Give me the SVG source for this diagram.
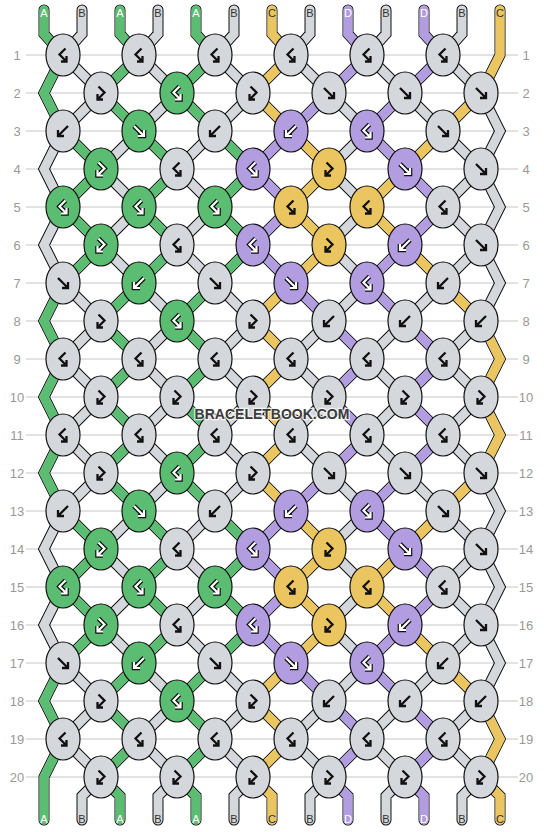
<svg xmlns="http://www.w3.org/2000/svg" width="544" height="832" viewBox="0 0 544 832">
<style>
.grid line{stroke:#c6c6c6;stroke-width:1}
.rl{font-family:"Liberation Sans",Arial,sans-serif;font-size:13px;fill:#999;text-anchor:middle}
.sl{font-family:"Liberation Sans",Arial,sans-serif;font-size:11px;text-anchor:middle}
.lw{fill:#fff}.ld{fill:#333}
.ol{fill:none;stroke:#111;stroke-width:11;stroke-linejoin:miter;stroke-linecap:round}
.st{fill:none;stroke-width:9;stroke-linejoin:miter;stroke-linecap:round}
.sB{stroke:#d4d8dc}.sA{stroke:#5bbd72}.sC{stroke:#ebc660}.sD{stroke:#b19de0}
.kB{fill:#d4d8dc}.kA{fill:#5bbd72}.kC{fill:#ebc660}.kD{fill:#b19de0}
.kn{stroke:#111;stroke-width:1.2}
.gk{fill:none;stroke:#111;stroke-width:2.3;stroke-linejoin:miter}
.go{fill:none;stroke:#111;stroke-width:4.6;stroke-linejoin:miter}
.gw{fill:none;stroke:#fff;stroke-width:2.2;stroke-linejoin:miter}
.wm{font-family:"Liberation Sans",Arial,sans-serif;font-weight:bold;font-size:14px;fill:#3c3c3c;stroke:rgba(255,255,255,0.75);stroke-width:2.5;paint-order:stroke;text-anchor:middle}
</style>
<defs>
<ellipse id="kn" rx="17" ry="21"/>
<path id="gf" d="M-5 -5L5 5M5 -1V5H-1"/>
<path id="gb" d="M5 -5L-5 5M-5 -1V5H1"/>
<path id="gbf" d="M2.5 -6.5L-3.5 -0.5L3.5 6.5M3.5 1V6.5H-2"/>
<path id="gfb" d="M-2.5 -6.5L3.5 -0.5L-3.5 6.5M-3.5 1V6.5H2"/>
<path id="net" d="M63 55l38 38 38-38 38 38 38-38 38 38 38-38 38 38 38-38 38 38 38-38 38 38
M63 131l38-38 38 38 38-38 38 38 38-38 38 38 38-38 38 38 38-38 38 38 38-38
M63 131l38 38 38-38 38 38 38-38 38 38 38-38 38 38 38-38 38 38 38-38 38 38
M63 207l38-38 38 38 38-38 38 38 38-38 38 38 38-38 38 38 38-38 38 38 38-38
M63 207l38 38 38-38 38 38 38-38 38 38 38-38 38 38 38-38 38 38 38-38 38 38
M63 283l38-38 38 38 38-38 38 38 38-38 38 38 38-38 38 38 38-38 38 38 38-38
M63 283l38 38 38-38 38 38 38-38 38 38 38-38 38 38 38-38 38 38 38-38 38 38
M63 359l38-38 38 38 38-38 38 38 38-38 38 38 38-38 38 38 38-38 38 38 38-38
M63 359l38 38 38-38 38 38 38-38 38 38 38-38 38 38 38-38 38 38 38-38 38 38
M63 435l38-38 38 38 38-38 38 38 38-38 38 38 38-38 38 38 38-38 38 38 38-38
M63 435l38 38 38-38 38 38 38-38 38 38 38-38 38 38 38-38 38 38 38-38 38 38
M63 511l38-38 38 38 38-38 38 38 38-38 38 38 38-38 38 38 38-38 38 38 38-38
M63 511l38 38 38-38 38 38 38-38 38 38 38-38 38 38 38-38 38 38 38-38 38 38
M63 587l38-38 38 38 38-38 38 38 38-38 38 38 38-38 38 38 38-38 38 38 38-38
M63 587l38 38 38-38 38 38 38-38 38 38 38-38 38 38 38-38 38 38 38-38 38 38
M63 663l38-38 38 38 38-38 38 38 38-38 38 38 38-38 38 38 38-38 38 38 38-38
M63 663l38 38 38-38 38 38 38-38 38 38 38-38 38 38 38-38 38 38 38-38 38 38
M63 739l38-38 38 38 38-38 38 38 38-38 38 38 38-38 38 38 38-38 38 38 38-38
M63 739l38 38 38-38 38 38 38-38 38 38 38-38 38 38 38-38 38 38 38-38 38 38
M63 55L44 93L63 131L44 169L63 207L44 245L63 283L44 321L63 359L44 397L63 435L44 473L63 511L44 549L63 587L44 625L63 663L44 701L63 739L44 777L44 820
M500 10L500 55L481 93L500 131L481 169L500 207L481 245L500 283L481 321L500 359L481 397L500 435L481 473L500 511L481 549L500 587L481 625L500 663L481 701L500 739L481 777L500 796L500 820
M44 10V34L63 55M82 10V34L63 55M120 10V34L139 55M158 10V34L139 55M196 10V34L215 55M234 10V34L215 55M272 10V34L291 55M310 10V34L291 55M348 10V34L367 55M386 10V34L367 55M424 10V34L443 55M462 10V34L443 55
M101 777L82 796V820M101 777L120 796V820M177 777L158 796V820M177 777L196 796V820M253 777L234 796V820M253 777L272 796V820M329 777L310 796V820M329 777L348 796V820M405 777L386 796V820M405 777L424 796V820M481 777L462 796V820"/>
</defs>
<rect width="544" height="832" fill="#fff"/>
<g class="grid">
<line x1="26" y1="55" x2="518" y2="55"/><line x1="26" y1="93" x2="518" y2="93"/><line x1="26" y1="131" x2="518" y2="131"/><line x1="26" y1="169" x2="518" y2="169"/><line x1="26" y1="207" x2="518" y2="207"/><line x1="26" y1="245" x2="518" y2="245"/><line x1="26" y1="283" x2="518" y2="283"/><line x1="26" y1="321" x2="518" y2="321"/><line x1="26" y1="359" x2="518" y2="359"/><line x1="26" y1="397" x2="518" y2="397"/><line x1="26" y1="435" x2="518" y2="435"/><line x1="26" y1="473" x2="518" y2="473"/><line x1="26" y1="511" x2="518" y2="511"/><line x1="26" y1="549" x2="518" y2="549"/><line x1="26" y1="587" x2="518" y2="587"/><line x1="26" y1="625" x2="518" y2="625"/><line x1="26" y1="663" x2="518" y2="663"/><line x1="26" y1="701" x2="518" y2="701"/><line x1="26" y1="739" x2="518" y2="739"/><line x1="26" y1="777" x2="518" y2="777"/>
</g>
<g class="rl">
<text x="17" y="60">1</text><text x="17" y="98">2</text><text x="17" y="136">3</text><text x="17" y="174">4</text><text x="17" y="212">5</text><text x="17" y="250">6</text><text x="17" y="288">7</text><text x="17" y="326">8</text><text x="17" y="364">9</text><text x="17" y="402">10</text><text x="17" y="440">11</text><text x="17" y="478">12</text><text x="17" y="516">13</text><text x="17" y="554">14</text><text x="17" y="592">15</text><text x="17" y="630">16</text><text x="17" y="668">17</text><text x="17" y="706">18</text><text x="17" y="744">19</text><text x="17" y="782">20</text>
<text x="526" y="60">1</text><text x="526" y="98">2</text><text x="526" y="136">3</text><text x="526" y="174">4</text><text x="526" y="212">5</text><text x="526" y="250">6</text><text x="526" y="288">7</text><text x="526" y="326">8</text><text x="526" y="364">9</text><text x="526" y="402">10</text><text x="526" y="440">11</text><text x="526" y="478">12</text><text x="526" y="516">13</text><text x="526" y="554">14</text><text x="526" y="592">15</text><text x="526" y="630">16</text><text x="526" y="668">17</text><text x="526" y="706">18</text><text x="526" y="744">19</text><text x="526" y="782">20</text>
</g>
<g id="connectors">
<use href="#net" class="ol"/>
<use href="#net" class="st sB"/>
<path class="st sA" d="M44 10V34L63 55M120 10V34L139 55M196 10V34L215 55
M63 55L44 93L63 131M63 283L44 321L63 359L44 397L63 435L44 473L63 511M63 663L44 701L63 739L44 777L44 820
M101 777L120 796V820M177 777L196 796V820
M139 55L101 93M215 55L177 93
M101 93L139 131M177 93L215 131
M63 131L101 169M139 131L177 169M215 131L253 169
M101 169L63 207M177 169L139 207M253 169L215 207
M63 207L101 245M139 207L177 245M215 207L253 245
M101 245L63 283M177 245L139 283M253 245L215 283
M139 283L101 321M215 283L177 321
M101 321L139 359M177 321L215 359
M139 359L101 397M215 359L177 397
M101 397L139 435M177 397L215 435
M139 435L101 473M215 435L177 473
M101 473L139 511M177 473L215 511
M63 511L101 549M139 511L177 549M215 511L253 549
M101 549L63 587M177 549L139 587M253 549L215 587
M63 587L101 625M139 587L177 625M215 587L253 625
M101 625L63 663M177 625L139 663M253 625L215 663
M139 663L101 701M215 663L177 701
M101 701L139 739M177 701L215 739
M139 739L101 777M215 739L177 777"/>
<path class="st sC" d="M272 10V34L291 55
M500 10L500 55L481 93M481 321L500 359L481 397L500 435L481 473M481 701L500 739L481 777L500 796L500 820
M253 777L272 796V820
M291 55L253 93
M253 93L291 131M481 93L443 131
M291 131L329 169M443 131L405 169
M329 169L291 207M405 169L367 207
M291 207L329 245M367 207L405 245
M329 245L291 283M405 245L443 283
M291 283L253 321M443 283L481 321
M253 321L291 359
M291 359L253 397
M253 397L291 435
M291 435L253 473
M253 473L291 511M481 473L443 511
M291 511L329 549M443 511L405 549
M329 549L291 587M405 549L367 587
M291 587L329 625M367 587L405 625
M329 625L291 663M405 625L443 663
M291 663L253 701M443 663L481 701
M253 701L291 739
M291 739L253 777"/>
<path class="st sD" d="M348 10V34L367 55M424 10V34L443 55
M329 777L348 796V820M405 777L424 796V820
M367 55L329 93M443 55L405 93
M329 93L291 131M405 93L367 131
M291 131L253 169M367 131L405 169
M253 169L291 207M405 169L443 207
M291 207L253 245M443 207L405 245
M253 245L291 283M405 245L367 283
M291 283L329 321M367 283L405 321
M329 321L367 359M405 321L443 359
M367 359L329 397M443 359L405 397
M329 397L367 435M405 397L443 435
M367 435L329 473M443 435L405 473
M329 473L291 511M405 473L367 511
M291 511L253 549M367 511L405 549
M253 549L291 587M405 549L443 587
M291 587L253 625M443 587L405 625
M253 625L291 663M405 625L367 663
M291 663L329 701M367 663L405 701
M329 701L367 739M405 701L443 739
M367 739L329 777M443 739L405 777"/>
</g>
<g id="strand-labels" class="sl">
<text class="lw" x="44" y="17">A</text><text class="ld" x="82" y="17">B</text><text class="lw" x="120" y="17">A</text><text class="ld" x="158" y="17">B</text><text class="lw" x="196" y="17">A</text><text class="ld" x="234" y="17">B</text><text class="ld" x="272" y="17">C</text><text class="ld" x="310" y="17">B</text><text class="lw" x="348" y="17">D</text><text class="ld" x="386" y="17">B</text><text class="lw" x="424" y="17">D</text><text class="ld" x="462" y="17">B</text><text class="ld" x="500" y="17">C</text>
<text class="lw" x="44" y="823">A</text><text class="ld" x="82" y="823">B</text><text class="lw" x="120" y="823">A</text><text class="ld" x="158" y="823">B</text><text class="lw" x="196" y="823">A</text><text class="ld" x="234" y="823">B</text><text class="ld" x="272" y="823">C</text><text class="ld" x="310" y="823">B</text><text class="lw" x="348" y="823">D</text><text class="ld" x="386" y="823">B</text><text class="lw" x="424" y="823">D</text><text class="ld" x="462" y="823">B</text><text class="ld" x="500" y="823">C</text>
</g>
<g id="knots">
<g id="k1-1" transform="translate(63 55)"><use href="#kn" class="kn kB"/><use href="#gbf" class="gk"/></g>
<g id="k1-2" transform="translate(139 55)"><use href="#kn" class="kn kB"/><use href="#gbf" class="gk"/></g>
<g id="k1-3" transform="translate(215 55)"><use href="#kn" class="kn kB"/><use href="#gbf" class="gk"/></g>
<g id="k1-4" transform="translate(291 55)"><use href="#kn" class="kn kB"/><use href="#gbf" class="gk"/></g>
<g id="k1-5" transform="translate(367 55)"><use href="#kn" class="kn kB"/><use href="#gbf" class="gk"/></g>
<g id="k1-6" transform="translate(443 55)"><use href="#kn" class="kn kB"/><use href="#gbf" class="gk"/></g>
<g id="k2-1" transform="translate(101 93)"><use href="#kn" class="kn kB"/><use href="#gfb" class="gk"/></g>
<g id="k2-2" transform="translate(177 93)"><use href="#kn" class="kn kA"/><use href="#gbf" class="go"/><use href="#gbf" class="gw"/></g>
<g id="k2-3" transform="translate(253 93)"><use href="#kn" class="kn kB"/><use href="#gfb" class="gk"/></g>
<g id="k2-4" transform="translate(329 93)"><use href="#kn" class="kn kB"/><use href="#gf" class="gk"/></g>
<g id="k2-5" transform="translate(405 93)"><use href="#kn" class="kn kB"/><use href="#gf" class="gk"/></g>
<g id="k2-6" transform="translate(481 93)"><use href="#kn" class="kn kB"/><use href="#gf" class="gk"/></g>
<g id="k3-1" transform="translate(63 131)"><use href="#kn" class="kn kB"/><use href="#gb" class="gk"/></g>
<g id="k3-2" transform="translate(139 131)"><use href="#kn" class="kn kA"/><use href="#gf" class="go"/><use href="#gf" class="gw"/></g>
<g id="k3-3" transform="translate(215 131)"><use href="#kn" class="kn kB"/><use href="#gb" class="gk"/></g>
<g id="k3-4" transform="translate(291 131)"><use href="#kn" class="kn kD"/><use href="#gb" class="go"/><use href="#gb" class="gw"/></g>
<g id="k3-5" transform="translate(367 131)"><use href="#kn" class="kn kD"/><use href="#gbf" class="go"/><use href="#gbf" class="gw"/></g>
<g id="k3-6" transform="translate(443 131)"><use href="#kn" class="kn kB"/><use href="#gf" class="gk"/></g>
<g id="k4-1" transform="translate(101 169)"><use href="#kn" class="kn kA"/><use href="#gfb" class="go"/><use href="#gfb" class="gw"/></g>
<g id="k4-2" transform="translate(177 169)"><use href="#kn" class="kn kB"/><use href="#gbf" class="gk"/></g>
<g id="k4-3" transform="translate(253 169)"><use href="#kn" class="kn kD"/><use href="#gbf" class="go"/><use href="#gbf" class="gw"/></g>
<g id="k4-4" transform="translate(329 169)"><use href="#kn" class="kn kC"/><use href="#gfb" class="gk"/></g>
<g id="k4-5" transform="translate(405 169)"><use href="#kn" class="kn kD"/><use href="#gf" class="go"/><use href="#gf" class="gw"/></g>
<g id="k4-6" transform="translate(481 169)"><use href="#kn" class="kn kB"/><use href="#gf" class="gk"/></g>
<g id="k5-1" transform="translate(63 207)"><use href="#kn" class="kn kA"/><use href="#gbf" class="go"/><use href="#gbf" class="gw"/></g>
<g id="k5-2" transform="translate(139 207)"><use href="#kn" class="kn kA"/><use href="#gbf" class="go"/><use href="#gbf" class="gw"/></g>
<g id="k5-3" transform="translate(215 207)"><use href="#kn" class="kn kA"/><use href="#gbf" class="go"/><use href="#gbf" class="gw"/></g>
<g id="k5-4" transform="translate(291 207)"><use href="#kn" class="kn kC"/><use href="#gbf" class="gk"/></g>
<g id="k5-5" transform="translate(367 207)"><use href="#kn" class="kn kC"/><use href="#gbf" class="gk"/></g>
<g id="k5-6" transform="translate(443 207)"><use href="#kn" class="kn kB"/><use href="#gbf" class="gk"/></g>
<g id="k6-1" transform="translate(101 245)"><use href="#kn" class="kn kA"/><use href="#gfb" class="go"/><use href="#gfb" class="gw"/></g>
<g id="k6-2" transform="translate(177 245)"><use href="#kn" class="kn kB"/><use href="#gbf" class="gk"/></g>
<g id="k6-3" transform="translate(253 245)"><use href="#kn" class="kn kD"/><use href="#gbf" class="go"/><use href="#gbf" class="gw"/></g>
<g id="k6-4" transform="translate(329 245)"><use href="#kn" class="kn kC"/><use href="#gfb" class="gk"/></g>
<g id="k6-5" transform="translate(405 245)"><use href="#kn" class="kn kD"/><use href="#gb" class="go"/><use href="#gb" class="gw"/></g>
<g id="k6-6" transform="translate(481 245)"><use href="#kn" class="kn kB"/><use href="#gf" class="gk"/></g>
<g id="k7-1" transform="translate(63 283)"><use href="#kn" class="kn kB"/><use href="#gf" class="gk"/></g>
<g id="k7-2" transform="translate(139 283)"><use href="#kn" class="kn kA"/><use href="#gb" class="go"/><use href="#gb" class="gw"/></g>
<g id="k7-3" transform="translate(215 283)"><use href="#kn" class="kn kB"/><use href="#gf" class="gk"/></g>
<g id="k7-4" transform="translate(291 283)"><use href="#kn" class="kn kD"/><use href="#gf" class="go"/><use href="#gf" class="gw"/></g>
<g id="k7-5" transform="translate(367 283)"><use href="#kn" class="kn kD"/><use href="#gbf" class="go"/><use href="#gbf" class="gw"/></g>
<g id="k7-6" transform="translate(443 283)"><use href="#kn" class="kn kB"/><use href="#gb" class="gk"/></g>
<g id="k8-1" transform="translate(101 321)"><use href="#kn" class="kn kB"/><use href="#gfb" class="gk"/></g>
<g id="k8-2" transform="translate(177 321)"><use href="#kn" class="kn kA"/><use href="#gbf" class="go"/><use href="#gbf" class="gw"/></g>
<g id="k8-3" transform="translate(253 321)"><use href="#kn" class="kn kB"/><use href="#gfb" class="gk"/></g>
<g id="k8-4" transform="translate(329 321)"><use href="#kn" class="kn kB"/><use href="#gb" class="gk"/></g>
<g id="k8-5" transform="translate(405 321)"><use href="#kn" class="kn kB"/><use href="#gb" class="gk"/></g>
<g id="k8-6" transform="translate(481 321)"><use href="#kn" class="kn kB"/><use href="#gb" class="gk"/></g>
<g id="k9-1" transform="translate(63 359)"><use href="#kn" class="kn kB"/><use href="#gbf" class="gk"/></g>
<g id="k9-2" transform="translate(139 359)"><use href="#kn" class="kn kB"/><use href="#gbf" class="gk"/></g>
<g id="k9-3" transform="translate(215 359)"><use href="#kn" class="kn kB"/><use href="#gbf" class="gk"/></g>
<g id="k9-4" transform="translate(291 359)"><use href="#kn" class="kn kB"/><use href="#gbf" class="gk"/></g>
<g id="k9-5" transform="translate(367 359)"><use href="#kn" class="kn kB"/><use href="#gbf" class="gk"/></g>
<g id="k9-6" transform="translate(443 359)"><use href="#kn" class="kn kB"/><use href="#gbf" class="gk"/></g>
<g id="k10-1" transform="translate(101 397)"><use href="#kn" class="kn kB"/><use href="#gfb" class="gk"/></g>
<g id="k10-2" transform="translate(177 397)"><use href="#kn" class="kn kB"/><use href="#gfb" class="gk"/></g>
<g id="k10-3" transform="translate(253 397)"><use href="#kn" class="kn kB"/><use href="#gfb" class="gk"/></g>
<g id="k10-4" transform="translate(329 397)"><use href="#kn" class="kn kB"/><use href="#gfb" class="gk"/></g>
<g id="k10-5" transform="translate(405 397)"><use href="#kn" class="kn kB"/><use href="#gfb" class="gk"/></g>
<g id="k10-6" transform="translate(481 397)"><use href="#kn" class="kn kB"/><use href="#gfb" class="gk"/></g>
<g id="k11-1" transform="translate(63 435)"><use href="#kn" class="kn kB"/><use href="#gbf" class="gk"/></g>
<g id="k11-2" transform="translate(139 435)"><use href="#kn" class="kn kB"/><use href="#gbf" class="gk"/></g>
<g id="k11-3" transform="translate(215 435)"><use href="#kn" class="kn kB"/><use href="#gbf" class="gk"/></g>
<g id="k11-4" transform="translate(291 435)"><use href="#kn" class="kn kB"/><use href="#gbf" class="gk"/></g>
<g id="k11-5" transform="translate(367 435)"><use href="#kn" class="kn kB"/><use href="#gbf" class="gk"/></g>
<g id="k11-6" transform="translate(443 435)"><use href="#kn" class="kn kB"/><use href="#gbf" class="gk"/></g>
<g id="k12-1" transform="translate(101 473)"><use href="#kn" class="kn kB"/><use href="#gfb" class="gk"/></g>
<g id="k12-2" transform="translate(177 473)"><use href="#kn" class="kn kA"/><use href="#gbf" class="go"/><use href="#gbf" class="gw"/></g>
<g id="k12-3" transform="translate(253 473)"><use href="#kn" class="kn kB"/><use href="#gfb" class="gk"/></g>
<g id="k12-4" transform="translate(329 473)"><use href="#kn" class="kn kB"/><use href="#gf" class="gk"/></g>
<g id="k12-5" transform="translate(405 473)"><use href="#kn" class="kn kB"/><use href="#gf" class="gk"/></g>
<g id="k12-6" transform="translate(481 473)"><use href="#kn" class="kn kB"/><use href="#gf" class="gk"/></g>
<g id="k13-1" transform="translate(63 511)"><use href="#kn" class="kn kB"/><use href="#gb" class="gk"/></g>
<g id="k13-2" transform="translate(139 511)"><use href="#kn" class="kn kA"/><use href="#gf" class="go"/><use href="#gf" class="gw"/></g>
<g id="k13-3" transform="translate(215 511)"><use href="#kn" class="kn kB"/><use href="#gb" class="gk"/></g>
<g id="k13-4" transform="translate(291 511)"><use href="#kn" class="kn kD"/><use href="#gb" class="go"/><use href="#gb" class="gw"/></g>
<g id="k13-5" transform="translate(367 511)"><use href="#kn" class="kn kD"/><use href="#gbf" class="go"/><use href="#gbf" class="gw"/></g>
<g id="k13-6" transform="translate(443 511)"><use href="#kn" class="kn kB"/><use href="#gf" class="gk"/></g>
<g id="k14-1" transform="translate(101 549)"><use href="#kn" class="kn kA"/><use href="#gfb" class="go"/><use href="#gfb" class="gw"/></g>
<g id="k14-2" transform="translate(177 549)"><use href="#kn" class="kn kB"/><use href="#gbf" class="gk"/></g>
<g id="k14-3" transform="translate(253 549)"><use href="#kn" class="kn kD"/><use href="#gbf" class="go"/><use href="#gbf" class="gw"/></g>
<g id="k14-4" transform="translate(329 549)"><use href="#kn" class="kn kC"/><use href="#gfb" class="gk"/></g>
<g id="k14-5" transform="translate(405 549)"><use href="#kn" class="kn kD"/><use href="#gf" class="go"/><use href="#gf" class="gw"/></g>
<g id="k14-6" transform="translate(481 549)"><use href="#kn" class="kn kB"/><use href="#gf" class="gk"/></g>
<g id="k15-1" transform="translate(63 587)"><use href="#kn" class="kn kA"/><use href="#gbf" class="go"/><use href="#gbf" class="gw"/></g>
<g id="k15-2" transform="translate(139 587)"><use href="#kn" class="kn kA"/><use href="#gbf" class="go"/><use href="#gbf" class="gw"/></g>
<g id="k15-3" transform="translate(215 587)"><use href="#kn" class="kn kA"/><use href="#gbf" class="go"/><use href="#gbf" class="gw"/></g>
<g id="k15-4" transform="translate(291 587)"><use href="#kn" class="kn kC"/><use href="#gbf" class="gk"/></g>
<g id="k15-5" transform="translate(367 587)"><use href="#kn" class="kn kC"/><use href="#gbf" class="gk"/></g>
<g id="k15-6" transform="translate(443 587)"><use href="#kn" class="kn kB"/><use href="#gbf" class="gk"/></g>
<g id="k16-1" transform="translate(101 625)"><use href="#kn" class="kn kA"/><use href="#gfb" class="go"/><use href="#gfb" class="gw"/></g>
<g id="k16-2" transform="translate(177 625)"><use href="#kn" class="kn kB"/><use href="#gbf" class="gk"/></g>
<g id="k16-3" transform="translate(253 625)"><use href="#kn" class="kn kD"/><use href="#gbf" class="go"/><use href="#gbf" class="gw"/></g>
<g id="k16-4" transform="translate(329 625)"><use href="#kn" class="kn kC"/><use href="#gfb" class="gk"/></g>
<g id="k16-5" transform="translate(405 625)"><use href="#kn" class="kn kD"/><use href="#gb" class="go"/><use href="#gb" class="gw"/></g>
<g id="k16-6" transform="translate(481 625)"><use href="#kn" class="kn kB"/><use href="#gf" class="gk"/></g>
<g id="k17-1" transform="translate(63 663)"><use href="#kn" class="kn kB"/><use href="#gf" class="gk"/></g>
<g id="k17-2" transform="translate(139 663)"><use href="#kn" class="kn kA"/><use href="#gb" class="go"/><use href="#gb" class="gw"/></g>
<g id="k17-3" transform="translate(215 663)"><use href="#kn" class="kn kB"/><use href="#gf" class="gk"/></g>
<g id="k17-4" transform="translate(291 663)"><use href="#kn" class="kn kD"/><use href="#gf" class="go"/><use href="#gf" class="gw"/></g>
<g id="k17-5" transform="translate(367 663)"><use href="#kn" class="kn kD"/><use href="#gbf" class="go"/><use href="#gbf" class="gw"/></g>
<g id="k17-6" transform="translate(443 663)"><use href="#kn" class="kn kB"/><use href="#gb" class="gk"/></g>
<g id="k18-1" transform="translate(101 701)"><use href="#kn" class="kn kB"/><use href="#gfb" class="gk"/></g>
<g id="k18-2" transform="translate(177 701)"><use href="#kn" class="kn kA"/><use href="#gbf" class="go"/><use href="#gbf" class="gw"/></g>
<g id="k18-3" transform="translate(253 701)"><use href="#kn" class="kn kB"/><use href="#gfb" class="gk"/></g>
<g id="k18-4" transform="translate(329 701)"><use href="#kn" class="kn kB"/><use href="#gb" class="gk"/></g>
<g id="k18-5" transform="translate(405 701)"><use href="#kn" class="kn kB"/><use href="#gb" class="gk"/></g>
<g id="k18-6" transform="translate(481 701)"><use href="#kn" class="kn kB"/><use href="#gb" class="gk"/></g>
<g id="k19-1" transform="translate(63 739)"><use href="#kn" class="kn kB"/><use href="#gbf" class="gk"/></g>
<g id="k19-2" transform="translate(139 739)"><use href="#kn" class="kn kB"/><use href="#gbf" class="gk"/></g>
<g id="k19-3" transform="translate(215 739)"><use href="#kn" class="kn kB"/><use href="#gbf" class="gk"/></g>
<g id="k19-4" transform="translate(291 739)"><use href="#kn" class="kn kB"/><use href="#gbf" class="gk"/></g>
<g id="k19-5" transform="translate(367 739)"><use href="#kn" class="kn kB"/><use href="#gbf" class="gk"/></g>
<g id="k19-6" transform="translate(443 739)"><use href="#kn" class="kn kB"/><use href="#gbf" class="gk"/></g>
<g id="k20-1" transform="translate(101 777)"><use href="#kn" class="kn kB"/><use href="#gfb" class="gk"/></g>
<g id="k20-2" transform="translate(177 777)"><use href="#kn" class="kn kB"/><use href="#gfb" class="gk"/></g>
<g id="k20-3" transform="translate(253 777)"><use href="#kn" class="kn kB"/><use href="#gfb" class="gk"/></g>
<g id="k20-4" transform="translate(329 777)"><use href="#kn" class="kn kB"/><use href="#gfb" class="gk"/></g>
<g id="k20-5" transform="translate(405 777)"><use href="#kn" class="kn kB"/><use href="#gfb" class="gk"/></g>
<g id="k20-6" transform="translate(481 777)"><use href="#kn" class="kn kB"/><use href="#gfb" class="gk"/></g>
</g>
<text class="wm" x="272" y="419">BRACELETBOOK.COM</text>
</svg>
